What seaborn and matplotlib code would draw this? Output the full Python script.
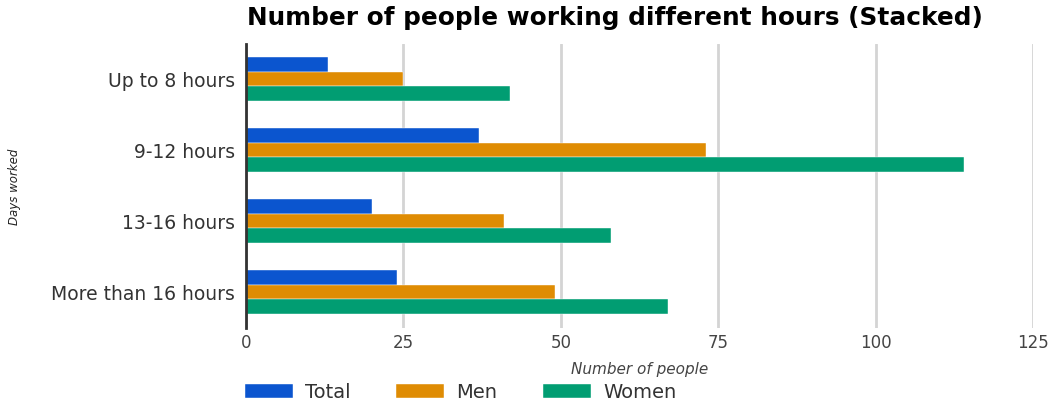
import matplotlib
matplotlib.use("Agg")
import matplotlib.pyplot as plt
import seaborn as sns
import pandas as pd

categories = ["Up to 8 hours", "9-12 hours", "13-16 hours", "More than 16 hours"]
series_names = ["Total", "Men", "Women"]
total = [13, 37, 20, 24]
men = [25, 73, 41, 49]
women = [42, 114, 58, 67]
x_ticks = [0, 25, 50, 75, 100, 125]
colors = ["#0b55cf", "#df8c03", "#019d72"]

rows = []
for name, values in zip(series_names, [total, men, women]):
    for cat, v in zip(categories, values):
        rows.append({"hours": cat, "people": v, "group": name})
df = pd.DataFrame(rows)

sns.set_theme(style="white")
plt.rcParams["font.family"] = ["DejaVu Sans"]

fig = plt.figure(figsize=(10.56, 4.06), dpi=100)
ax = fig.add_axes([246 / 1056, 1 - 328.5 / 406, (1033 - 246) / 1056, 284 / 406])

sns.barplot(data=df, y="hours", x="people", hue="group", order=categories,
            hue_order=series_names, palette=colors, saturation=1, orient="h",
            width=0.62, edgecolor="white", linewidth=0.3, ax=ax, legend=True)

ax.set_xlim(0, 125)
ax.set_ylim(3.5, -0.5)
ax.set_xticks(x_ticks)
ax.set_xticklabels([str(t) for t in x_ticks], fontsize=12, color="#444444")
ax.tick_params(axis="x", length=0, pad=4)
ax.tick_params(axis="y", length=0, pad=8, labelsize=13.5, labelcolor="#333333")
ax.xaxis.grid(True, color="#d4d4d4", linewidth=2)
ax.set_axisbelow(True)
for side in ["top", "right", "bottom"]:
    ax.spines[side].set_visible(False)
ax.spines["left"].set_color("#333333")
ax.spines["left"].set_linewidth(2)
ax.spines["left"].set_zorder(5)

ax.set_xlabel("Number of people", fontsize=11, style="italic", color="#444444", labelpad=7)
ax.set_ylabel("Days worked", fontsize=8.5, style="italic", color="#222222", labelpad=0)
ax.yaxis.set_label_coords(-0.286, 0.5)

fig.text(247 / 1056, 1 - 18 / 406, "Number of people working different hours (Stacked)",
         fontsize=17.8, fontweight="bold", color="#000000", ha="left", va="center")

handles, labels = ax.get_legend_handles_labels()
ax.get_legend().remove()
fig.legend(handles, labels, loc="center left", bbox_to_anchor=(245 / 1056, 1 - 393 / 406),
           ncol=3, frameon=False, fontsize=14, handlelength=2.47, handleheight=0.7,
           columnspacing=2.35, handletextpad=0.62, borderpad=0, borderaxespad=0,
           labelcolor="#333333")

fig.savefig("out.png", dpi=100)
